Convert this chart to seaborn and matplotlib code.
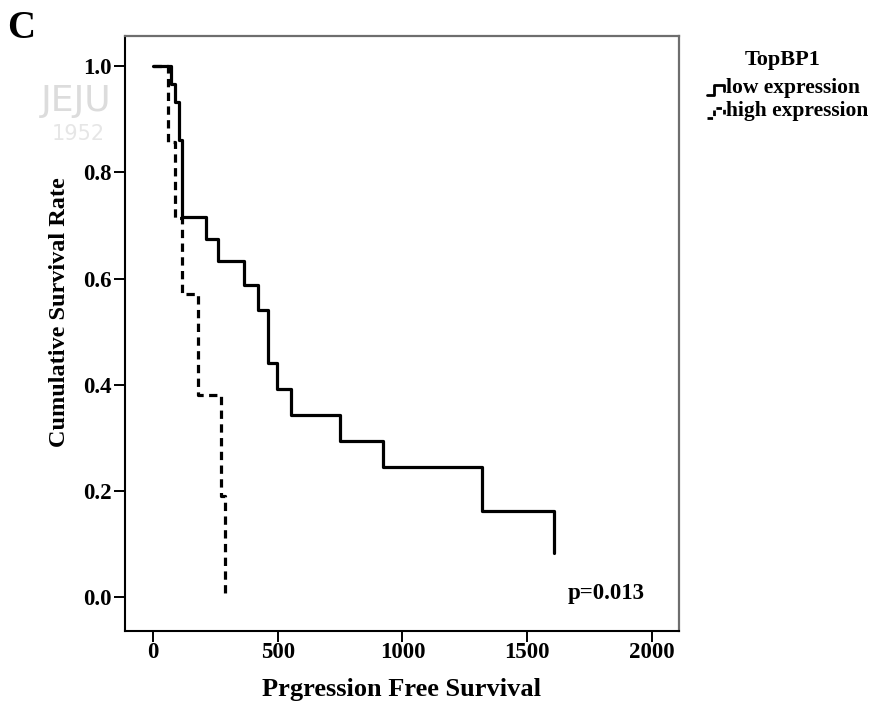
import numpy as np
import pandas as pd
import matplotlib
matplotlib.use("Agg")
import matplotlib.pyplot as plt
import seaborn as sns
from matplotlib.lines import Line2D

# Kaplan-Meier step values (time of each drop, survival after the drop)
low_time = [0, 72, 88, 104, 117, 212, 261, 365, 419, 462, 496, 553, 750, 921, 1320, 1607]
low_surv = [1.0, 0.967, 0.933, 0.861, 0.716, 0.674, 0.634, 0.588, 0.540, 0.440,
            0.391, 0.343, 0.294, 0.245, 0.162, 0.083]
high_time = [0, 60, 88, 117, 182, 271, 289]
high_surv = [1.0, 0.857, 0.714, 0.571, 0.381, 0.190, 0.0]

group_names = ["low expression", "high expression"]
x_ticks = [0, 500, 1000, 1500, 2000]
y_ticks = [0.0, 0.2, 0.4, 0.6, 0.8, 1.0]

df = pd.concat([
    pd.DataFrame({"time": low_time, "surv": low_surv, "group": group_names[0]}),
    pd.DataFrame({"time": high_time, "surv": high_surv, "group": group_names[1]}),
], ignore_index=True)

sns.set_style("ticks")
plt.rcParams["font.family"] = ["Liberation Serif", "DejaVu Serif"]
plt.rcParams["font.weight"] = "bold"
for key in ["text.color", "axes.labelcolor", "xtick.color", "ytick.color", "axes.edgecolor"]:
    plt.rcParams[key] = "black"

W, H = 878, 706
fig = plt.figure(figsize=(W / 100, H / 100), dpi=100)


def fx(px):
    return px / W


def fy(py):
    return 1 - py / H


# faint university seal in the background
fig.text(fx(76), fy(101), "JEJU", fontsize=26, color="#dcdcdc", ha="center", va="center",
         family="DejaVu Sans", fontweight="normal", zorder=0)
fig.text(fx(78), fy(134), "1952", fontsize=15, color="#e6e6e6", ha="center", va="center",
         family="DejaVu Sans", fontweight="normal", zorder=0)

ax_top, ax_bottom = 36, 631
ax = fig.add_axes([fx(125), fy(ax_bottom), fx(679) - fx(125), fy(ax_top) - fy(ax_bottom)])
ax.patch.set_alpha(0)
ax_h = ax_bottom - ax_top

lw = 2.3
sns.lineplot(data=df, x="time", y="surv", style="group",
             dashes={group_names[0]: "", group_names[1]: (2.6, 1.7)},
             drawstyle="steps-post", estimator=None, sort=False, color="black",
             linewidth=lw, legend=False, ax=ax)

ax.set_xlim(-112, 2108)
ax.set_ylim(-0.064, 1.057)
ax.set_xticks(x_ticks)
ax.set_xticklabels([str(v) for v in x_ticks])
ax.set_yticks(y_ticks)
ax.set_yticklabels([f"{v:.1f}" for v in y_ticks])
ax.tick_params(axis="both", direction="out", length=8, width=1.4, color="black",
               labelsize=16.5, pad=1.5)
ax.tick_params(axis="x", pad=0)
for lab in ax.get_xticklabels() + ax.get_yticklabels():
    lab.set_fontweight("bold")

for side in ["left", "bottom"]:
    ax.spines[side].set_color("black")
    ax.spines[side].set_linewidth(1.5)
for side in ["top", "right"]:
    ax.spines[side].set_visible(True)
    ax.spines[side].set_color("#6e6e6e")
    ax.spines[side].set_linewidth(1.6)

ax.set_xlabel("Prgression Free Survival", fontsize=19, fontweight="bold")
ax.set_ylabel("Cumulative Survival Rate", fontsize=17.5, fontweight="bold")
ax.xaxis.set_label_coords(0.5, -(678 - ax_bottom) / ax_h)
ax.yaxis.set_label_coords(-0.099, (ax_bottom - 312) / ax_h)

ax.text((645 - 125) / 554, (ax_bottom - 594) / ax_h, "p=0.013", transform=ax.transAxes,
        ha="right", va="center", fontsize=16.5, fontweight="bold")

fig.text(fx(7), fy(38), "C", fontsize=28, fontweight="bold", ha="left", va="baseline")

# legend: title, step glyphs and group labels
fig.text(fx(783), fy(60), "TopBP1", fontsize=16, fontweight="bold", ha="center", va="center")
glyphs = [
    ([707, 714, 714, 724, 724], [95, 95, 85, 85, 91], "-", 88, group_names[0]),
    ([707, 714, 714, 724, 724], [118, 118, 108, 108, 114], "--", 111, group_names[1]),
]
for xs, ys, ls, ty, label in glyphs:
    ln = Line2D([fx(v) for v in xs], [fy(v) for v in ys], transform=fig.transFigure,
                color="black", linewidth=2, linestyle=ls)
    if ls == "--":
        ln.set_dashes((2.0, 1.4))
    fig.add_artist(ln)
    fig.text(fx(726), fy(ty), label, fontsize=15.5, fontweight="bold", ha="left", va="center")

fig.savefig("out.png", dpi=100)
